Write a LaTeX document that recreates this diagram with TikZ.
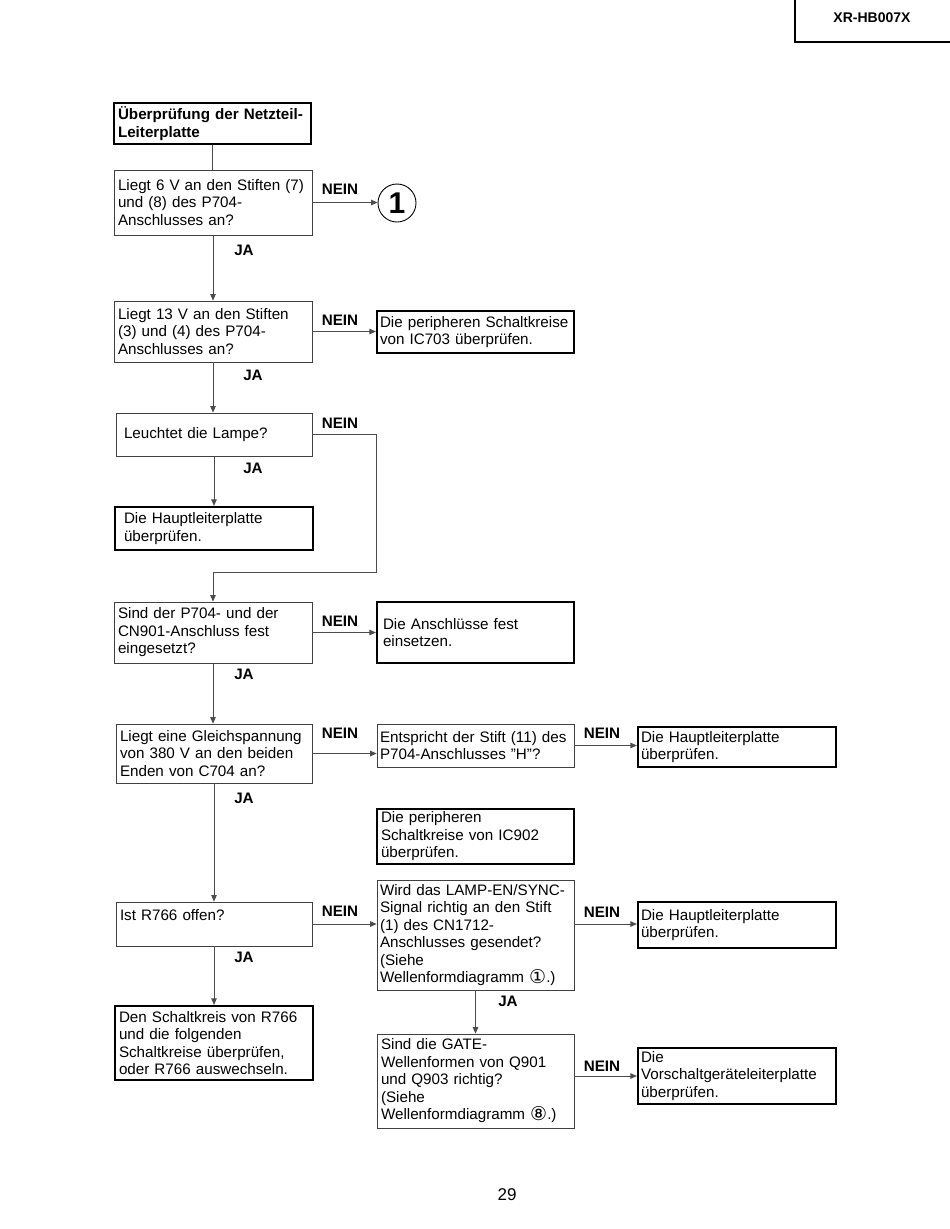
\documentclass[tikz,border=0pt]{standalone}
\usepackage{fontspec}
\setmainfont{Liberation Sans}
\newfontfamily\circfont{DejaVu Sans}
\newcommand\circnum[1]{{\circfont\fontsize{19}{17.5}\selectfont\raisebox{-0.5pt}{#1}}}
\usetikzlibrary{arrows.meta}
\begin{document}
\begin{tikzpicture}[x=1pt,y=-1pt,
 txt/.style={font=\fontsize{15.2}{17.5}\selectfont},
 qbox/.style={draw=black!75, line width=0.8pt, txt, align=left, inner xsep=4pt, inner ysep=0pt},
 abox/.style={draw=black, line width=2.2pt, txt, align=left, inner xsep=4pt, inner ysep=0pt},
 lbl/.style={font=\fontsize{15.2}{17.5}\selectfont\bfseries, inner sep=0pt},
 conn/.style={draw=black!70, line width=0.8pt},
 arr/.style={conn, -{Triangle[length=6.5pt,width=5.5pt]}},
]
\useasboundingbox (0,0) rectangle (950,1229);
% header
\draw[line width=1.3pt] (795,0) -- (795,42) -- (950,42);
\node[font=\fontsize{14}{14}\selectfont\bfseries, inner sep=0pt] (hdr) at (872,18) {XR-HB007X};

% boxes
\node[abox, minimum width=197pt, minimum height=41pt, text width=189pt] (start) at (212.5,123.5) {\bfseries Überprüfung der Netzteil-\\Leiterplatte};
\node[qbox, minimum width=198pt, minimum height=65pt, text width=190pt] (Q1) at (213,202.5) {Liegt 6 V an den Stiften (7)\\und (8) des P704-\\Anschlusses an?};
\node[circle, draw, line width=0.9pt, minimum size=38pt, inner sep=0pt, font=\fontsize{30}{30}\selectfont\bfseries] (c1) at (397,203) {1};
\node[qbox, minimum width=198pt, minimum height=61pt, text width=190pt] (Q2) at (213,331.5) {Liegt 13 V an den Stiften\\(3) und (4) des P704-\\Anschlusses an?};
\node[abox, minimum width=197pt, minimum height=42pt, text width=191pt, inner xsep=3pt] (A2) at (475.5,332) {Die peripheren Schaltkreise\\von IC703 überprüfen.};
\node[qbox, minimum width=196pt, minimum height=43pt, text width=180pt, inner xsep=8pt] (Q3) at (214,434.5) {Leuchtet die Lampe?};
\node[abox, minimum width=198pt, minimum height=43pt, text width=180pt, inner xsep=9pt] (A3) at (214,528.5) {Die Hauptleiterplatte\\überprüfen.};
\node[qbox, minimum width=198pt, minimum height=61pt, text width=190pt] (Q4) at (213,632.5) {Sind der P704- und der\\CN901-Anschluss fest\\eingesetzt?};
\node[abox, minimum width=197pt, minimum height=61pt, text width=185pt, inner xsep=6pt] (A4) at (475.5,632.5) {Die Anschlüsse fest\\einsetzen.};
\node[qbox, minimum width=196pt, minimum height=59pt, text width=188pt] (Q5) at (214,753.5) {Liegt eine Gleichspannung\\von 380 V an den beiden\\Enden von C704 an?};
\node[qbox, minimum width=197pt, minimum height=43pt, text width=191pt, inner xsep=3pt] (Q6) at (475.5,745.5) {Entspricht der Stift (11) des\\P704-Anschlusses "H"?};
\node[abox, minimum width=198pt, minimum height=40pt, text width=192pt, inner xsep=3pt] (A6) at (737,747) {Die Hauptleiterplatte\\überprüfen.};
\node[abox, minimum width=197pt, minimum height=55pt, text width=189pt] (AIC) at (475.5,836.5) {Die peripheren\\Schaltkreise von IC902\\überprüfen.};
\node[qbox, minimum width=196pt, minimum height=44pt, text width=188pt] (Q7) at (214,924) {Ist R766 offen?\\\mbox{}};
\node[qbox, minimum width=197pt, minimum height=110pt, text width=191pt, inner xsep=3pt] (Q8) at (475.5,935) {Wird das LAMP-EN/SYNC-\\Signal richtig an den Stift\\(1) des CN1712-\\Anschlusses gesendet?\\(Siehe\\Wellenformdiagramm \circnum{①}.)};
\node[abox, minimum width=198pt, minimum height=46pt, text width=192pt, inner xsep=3pt] (A8) at (737,925) {Die Hauptleiterplatte\\überprüfen.};
\node[abox, minimum width=198pt, minimum height=74pt, text width=190pt] (A7) at (214,1043) {Den Schaltkreis von R766\\und die folgenden\\Schaltkreise überprüfen,\\oder R766 auswechseln.};
\node[qbox, minimum width=197pt, minimum height=94pt, text width=189pt] (Q9) at (475.5,1081) {Sind die GATE-\\Wellenformen von Q901\\und Q903 richtig?\\(Siehe\\Wellenformdiagramm \circnum{⑧}.)};
\node[abox, minimum width=198pt, minimum height=56pt, text width=192pt, inner xsep=3pt] (A9) at (737,1076) {Die\\Vorschaltgeräteleiterplatte\\überprüfen.};

% connectors
\coordinate (k1) at (376,436);
\coordinate (k2) at (376,572);
\draw[conn] (start.south) -- (start.south |- Q1.north);
\draw[arr] (Q1.east) -- (Q1.east -| c1.west);
\draw[arr] (Q1.south) -- (Q1.south |- Q2.north);
\draw[arr] (Q2.east) -- (Q2.east -| A2.west);
\draw[arr] (Q2.south) -- (Q2.south |- Q3.north);
\draw[arr] (Q3.east) -- (Q3.east -| k1) -- (k2) -- (k2 -| Q4.north) -- (Q4.north);
\draw[arr] (Q3.south) -- (Q3.south |- A3.north);
\draw[arr] (Q4.east) -- (Q4.east -| A4.west);
\draw[arr] (Q4.south) -- (Q4.south |- Q5.north);
\draw[arr] (Q5.east) -- (Q5.east -| Q6.west);
\draw[arr] (Q6.east) -- (Q6.east -| A6.west);
\draw[arr] (Q5.south) -- (Q5.south |- Q7.north);
\draw[arr] (Q7.east) -- (Q7.east -| Q8.west);
\draw[arr] (Q8.east |- Q7.east) -- (Q7.east -| A8.west);
\draw[arr] (Q7.south) -- (Q7.south |- A7.north);
\draw[arr] (Q8.south) -- (Q8.south |- Q9.north);
\draw[arr] (Q9.east |- A9.west) -- (A9.west);

% labels
\node[lbl] (n1) at (340,189) {NEIN};
\node[lbl] (n2) at (340,320) {NEIN};
\node[lbl] (n3) at (340,423) {NEIN};
\node[lbl] (n4) at (340,621) {NEIN};
\node[lbl] (n5) at (340,733) {NEIN};
\node[lbl] (n6) at (602,733) {NEIN};
\node[lbl] (n7) at (340,911) {NEIN};
\node[lbl] (n8) at (602,912) {NEIN};
\node[lbl] (n9) at (602,1066) {NEIN};
\node[lbl] (j1) at (244,250) {JA};
\node[lbl] (j2) at (253,375) {JA};
\node[lbl] (j3) at (253,468) {JA};
\node[lbl] (j4) at (244,674) {JA};
\node[lbl] (j5) at (244,798) {JA};
\node[lbl] (j6) at (244,957) {JA};
\node[lbl] (j7) at (508,1001) {JA};

% page number
\node[font=\fontsize{17}{17}\selectfont, inner sep=0pt] (pg) at (507,1195) {29};
\end{tikzpicture}
\end{document}
